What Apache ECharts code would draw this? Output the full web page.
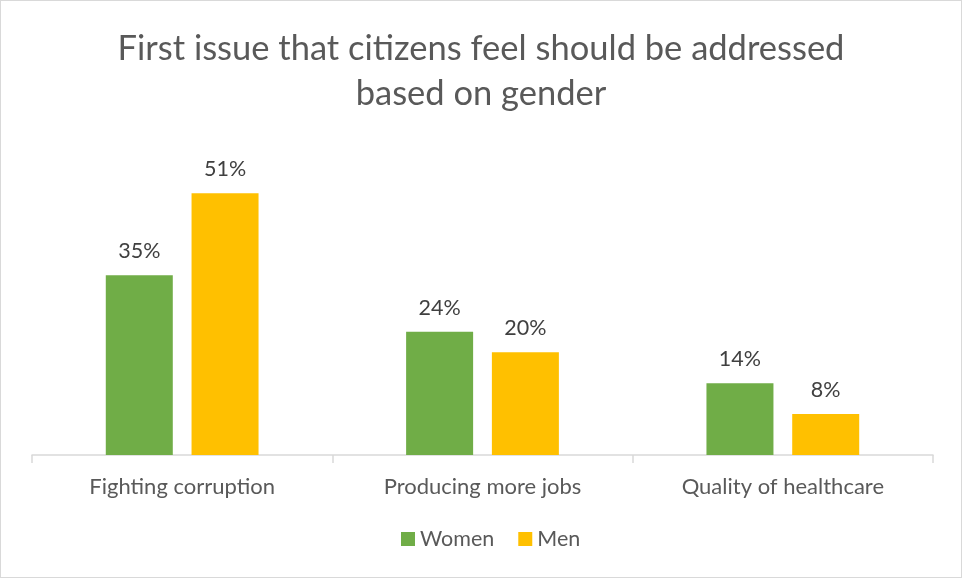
<!DOCTYPE html>
<html>
<head>
<meta charset="utf-8">
<script src="https://cdn.jsdelivr.net/npm/echarts@6/dist/echarts.min.js"></script>
<style>
  html, body { margin: 0; padding: 0; background: #ffffff; }
  #chart { width: 962px; height: 578px; box-sizing: border-box; border: 1px solid #d9d9d9; }
</style>
</head>
<body>
<div id="chart"></div>
<script>
// Survey results: first issue citizens want addressed, split by gender
const categories = ['Fighting corruption', 'Producing more jobs', 'Quality of healthcare'];
const womenValues = [35, 24, 14];
const menValues = [51, 20, 8];
const seriesNames = ['Women', 'Men'];

const FONT = 'Lato, "Open Sans", sans-serif';
const chart = echarts.init(document.getElementById('chart'), null, { renderer: 'canvas' });

const labelStyle = {
  show: true,
  position: 'top',
  distance: 13,
  formatter: p => p.value + '%',
  color: '#404040',
  fontSize: 21.5,
  fontFamily: FONT
};

chart.setOption({
  animation: false,
  title: {
    text: 'First issue that citizens feel should be addressed\nbased on gender',
    left: 'center',
    top: 20,
    textStyle: {
      color: '#595959',
      fontSize: 34.5,
      fontWeight: 'normal',
      fontFamily: FONT,
      lineHeight: 45
    }
  },
  legend: {
    data: seriesNames,
    bottom: 22,
    left: 395,
    icon: 'rect',
    itemWidth: 14,
    itemHeight: 14,
    itemGap: 24,
    textStyle: { color: '#595959', fontSize: 21.5, fontFamily: FONT }
  },
  grid: { left: 31, right: 28, top: 146, bottom: 122, containLabel: false },
  xAxis: {
    type: 'category',
    data: categories,
    axisLine: { lineStyle: { color: '#d9d9d9', width: 1.5 } },
    axisTick: { show: true, length: 8, lineStyle: { color: '#d9d9d9', width: 1.5 } },
    axisLabel: { color: '#595959', fontSize: 22, fontFamily: FONT, margin: 21 }
  },
  yAxis: {
    type: 'value',
    min: 0,
    max: 60,
    show: false,
    splitLine: { show: false }
  },
  series: [
    {
      name: seriesNames[0],
      type: 'bar',
      data: womenValues,
      barWidth: 67,
      barGap: '28%',
      itemStyle: { color: '#70AD47' },
      label: labelStyle
    },
    {
      name: seriesNames[1],
      type: 'bar',
      data: menValues,
      barWidth: 67,
      barGap: '28%',
      itemStyle: { color: '#FFC000' },
      label: labelStyle
    }
  ]
});
</script>
</body>
</html>
